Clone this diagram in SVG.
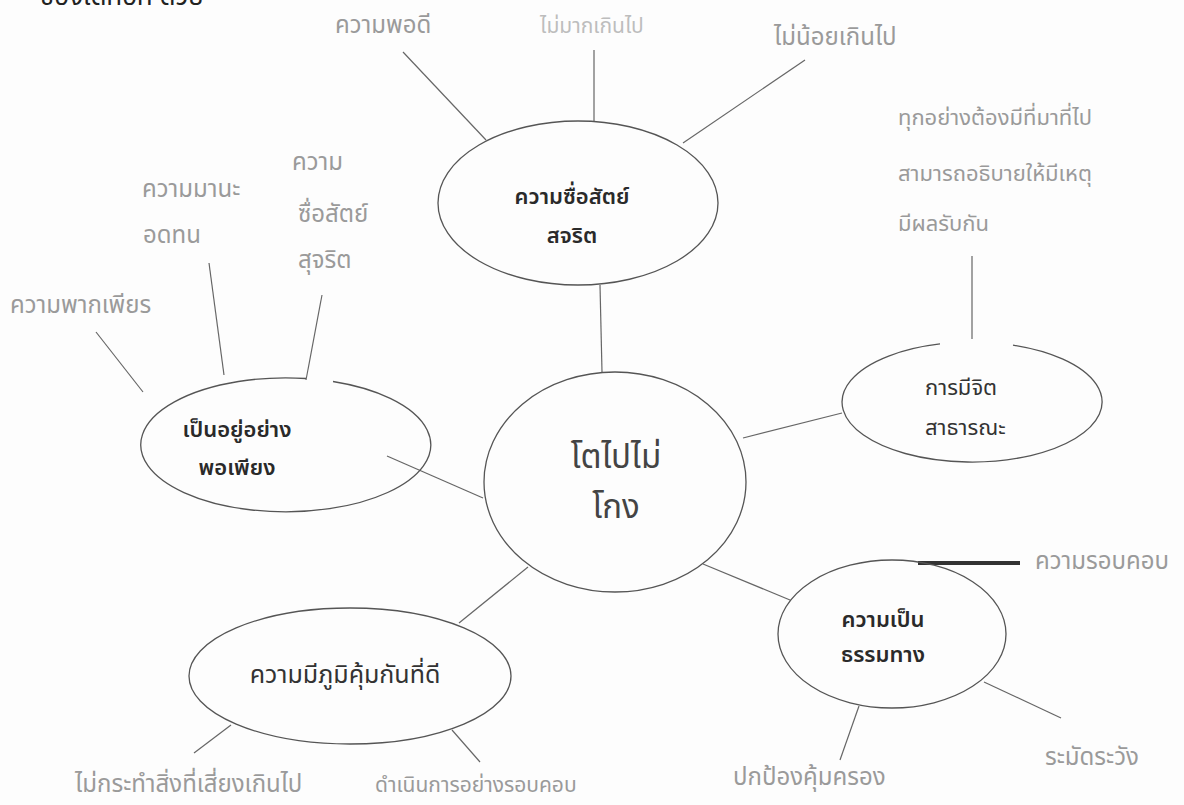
<svg xmlns="http://www.w3.org/2000/svg" width="1184" height="805" viewBox="0 0 1184 805">
<style>
.bg{fill:#fdfdfd}
.node{fill:none;stroke:#555;stroke-width:1.3}
.ln{stroke:#666;stroke-width:1.2;fill:none}
.lbl{font-family:'Noto Sans Thai','Noto Sans','DejaVu Sans',sans-serif;font-size:24px;fill:#9a9a9a}
.pale{fill:#bdbdbd;font-size:21px}
.bold{font-family:'Noto Sans Thai','Noto Sans','DejaVu Sans',sans-serif;font-size:22px;font-weight:600;fill:#2a2a2a}
.mid{font-family:'Noto Sans Thai','Noto Sans','DejaVu Sans',sans-serif;font-size:22px;fill:#333}
.big{font-family:'Noto Sans Thai','Noto Sans','DejaVu Sans',sans-serif;font-size:33px;fill:#444}
</style>
<rect class="bg" x="0" y="0" width="1184" height="805"/>
<text x="40" y="5" style="font-family:'Noto Sans Thai','Noto Sans',sans-serif;font-size:26px;fill:#222">ของเด็กอีก ด้วย</text>

<g id="connectors">
<line class="ln" x1="600" y1="285" x2="602" y2="372"/>
<line class="ln" x1="387" y1="456" x2="483" y2="498"/>
<line class="ln" x1="743" y1="438" x2="842" y2="413"/>
<line class="ln" x1="528" y1="567" x2="459" y2="623"/>
<line class="ln" x1="703" y1="564" x2="790" y2="600"/>
<line class="ln" x1="403" y1="52" x2="486" y2="140"/>
<line class="ln" x1="594" y1="50" x2="594" y2="121"/>
<line class="ln" x1="805" y1="60" x2="683" y2="143"/>
<line class="ln" x1="972" y1="256" x2="972" y2="339"/>
<line class="ln" x1="96" y1="332" x2="143" y2="392"/>
<line class="ln" x1="209" y1="263" x2="224" y2="375"/>
<line class="ln" x1="322" y1="295" x2="306" y2="380"/>
<line class="ln" x1="231" y1="725" x2="194" y2="753"/>
<line class="ln" x1="452" y1="730" x2="480" y2="762"/>
<line class="ln" x1="859" y1="706" x2="840" y2="760"/>
<line class="ln" x1="984" y1="682" x2="1061" y2="718"/>
<line x1="918" y1="563" x2="1020" y2="563" stroke="#333" stroke-width="4"/>
</g>

<g id="center">
<ellipse class="node" cx="615" cy="482" rx="131" ry="110"/>
<text class="big" x="616" y="468" text-anchor="middle">โตไปไม่</text>
<text class="big" x="616" y="518" text-anchor="middle">โกง</text>
</g>

<g id="honesty">
<ellipse class="node" cx="578" cy="203" rx="140" ry="82"/>
<text class="bold" x="572" y="204" text-anchor="middle">ความซื่อสัตย์</text>
<text class="bold" x="572" y="243" text-anchor="middle">สจริต</text>
</g>

<g id="public-mind">
<path class="node" d="M940 343.9 A130 60 0 1 0 1013 345.1"/>
<text class="mid" x="925" y="395">การมีจิต</text>
<text class="mid" x="925" y="435">สาธารณะ</text>
</g>

<g id="sufficiency">
<path class="node" d="M306 378.5 A145 67 0 1 0 333 381.5"/>
<text class="bold" x="237" y="437" text-anchor="middle">เป็นอยู่อย่าง</text>
<text class="bold" x="237" y="475" text-anchor="middle">พอเพียง</text>
</g>

<g id="immunity">
<ellipse class="node" cx="350" cy="676" rx="161" ry="68"/>
<text class="mid" x="345" y="683" text-anchor="middle" style="font-size:25px">ความมีภูมิคุ้มกันที่ดี</text>
</g>

<g id="righteousness">
<ellipse class="node" cx="892" cy="634" rx="114" ry="74"/>
<text class="bold" x="883" y="627" text-anchor="middle">ความเป็น</text>
<text class="bold" x="883" y="662" text-anchor="middle">ธรรมทาง</text>
</g>

<g id="labels">
<text class="lbl" x="335" y="33">ความพอดี</text>
<text class="lbl pale" x="540" y="33">ไม่มากเกินไป</text>
<text class="lbl" x="774" y="45">ไม่น้อยเกินไป</text>
<text class="lbl" x="898" y="125" style="font-size:22px">ทุกอย่างต้องมีที่มาที่ไป</text>
<text class="lbl" x="898" y="181" style="font-size:22px">สามารถอธิบายให้มีเหตุ</text>
<text class="lbl" x="898" y="231" style="font-size:22px">มีผลรับกัน</text>
<text class="lbl" x="142" y="197">ความมานะ</text>
<text class="lbl" x="143" y="243">อดทน</text>
<text class="lbl" x="292" y="170">ความ</text>
<text class="lbl" x="298" y="222">ซื่อสัตย์</text>
<text class="lbl" x="298" y="268">สุจริต</text>
<text class="lbl" x="10" y="313">ความพากเพียร</text>
<text class="lbl" x="1035" y="569">ความรอบคอบ</text>
<text class="lbl" x="75" y="792">ไม่กระทำสิ่งที่เสี่ยงเกินไป</text>
<text class="lbl" x="375" y="792" style="font-size:21px">ดำเนินการอย่างรอบคอบ</text>
<text class="lbl" x="733" y="785">ปกป้องคุ้มครอง</text>
<text class="lbl" x="1045" y="765">ระมัดระวัง</text>
</g>
</svg>
